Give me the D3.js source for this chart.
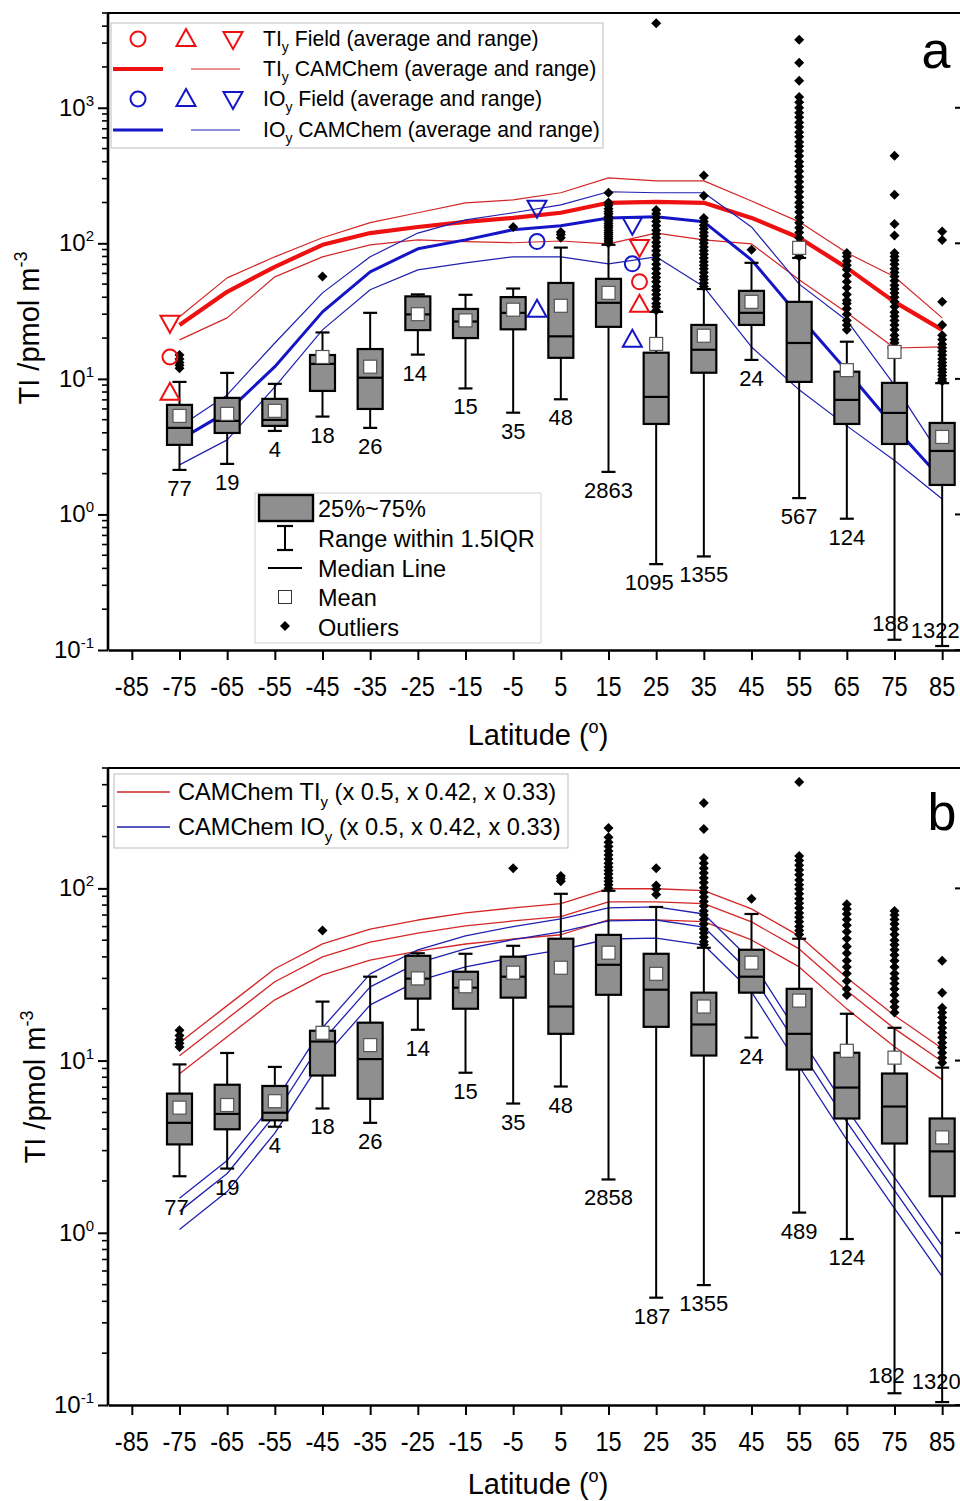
<!DOCTYPE html>
<html><head><meta charset="utf-8">
<script src="https://cdnjs.cloudflare.com/ajax/libs/d3/7.8.5/d3.min.js"></script>
<style>
body{margin:0;background:#fff}
svg{display:block}
text{font-family:"Liberation Sans",Arial,Helvetica,sans-serif;fill:#000}
</style>
</head><body>
<svg id="c" width="960" height="1501"></svg>
<script>
// ---------------- DATA ----------------
const lats = [-75,-65,-55,-45,-35,-25,-15,-5,5,15,25,35,45,55,65,75,85];
const xTickValues = [-85,-75,-65,-55,-45,-35,-25,-15,-5,5,15,25,35,45,55,65,75,85];
const xTickLabels = ["-85","-75","-65","-55","-45","-35","-25","-15","-5","5","15","25","35","45","55","65","75","85"];
const yMajorA = [0.1,1,10,100,1000];
const yExpA = ["-1","0","1","2","3"];
const yMajorB = [0.1,1,10,100];
const yExpB = ["-1","0","1","2"];

// Panel a box statistics
const q1A     = [3.26,3.99,4.50,8.15,6.0,22.9,20.0,23.2,14.3,24.2,4.65,11.1,25,9.5,4.65,3.31,1.65];
const medA    = [4.35,4.90,4.98,12.9,10.2,29.9,26.5,30.7,20.6,36.4,7.36,16.4,30.7,18.4,7.0,5.61,2.94];
const q3A     = [6.43,7.24,7.12,15.0,16.6,40.6,32.8,40.1,51,54.7,15.6,25,44.6,37,11.3,9.34,4.73];
const meanA   = [5.33,5.52,5.81,14.5,12.3,30,27,32.4,34.6,43.1,18.1,20.8,37,92.6,11.6,15.8,3.73];
const wLowA   = [2.13,2.36,4.13,5.27,4.35,15.1,8.5,5.63,7.07,2.06,0.43,0.49,13.8,1.32,0.93,0.119,0.107];
const wHighA  = [9.5,11.07,9.19,22,30.7,42,41.7,46.4,93,97.5,31.2,46,71.8,78,18.8,17,9.3];
const countsA = [77,19,4,18,26,14,15,35,48,2863,1095,1355,24,567,124,188,1322];
const outliersA = [
  [12,12.6,13.2,14,15],[],[],[57],[],[],[],[132],[110,116,121],
  [236,200,190,180,172,165,158,152,146,140,135,130,125,120,116,112,108,104,100],
  [4200,176,165,155,145,135,125,117,110,102,95,88,82,76,70,65,60,56,52,48,45,42,39,36,34,32],
  [317,224,154,145,136,128,120,113,106,100,94,88,83,78,73,69,65,61,57,54,51,48],
  [89.5],
  [3175,2150,1580,1200,1100,1000,920,850,780,720,660,610,560,520,480,440,400,370,340,310,285,260,240,220,200,185,170,155,142,130,120,110,101,93,86,80],
  [85,80,74,69,64,58,52,47,42,38,36,33,30,27,25,23],
  [442,228,139,114,85,80,75,70,65,61,57,53,49,46,43,40,37,34,31,29,27,25,23,21,19.5,18.5],
  [122,106,37,25,21,19.5,18,17,16,15,14,13.2,12.5,11.8,11.2,10.6,10,9.6]
];

// Panel a CAMChem model lines
const camTIyAvg = [25.0,43.9,67.1,97.5,119,132,144,154,168,199,202,199,154,110,65.9,37.0,23.0];
const camTIyMax = [28.7,55.6,79.5,110,142,168,199,209,236,304,289,289,205,144,85.1,56.6,28.2];
const camTIyMin = [19.4,28.2,56.6,79.5,97.5,106,103,101,104,99,119,106,99,53.8,30.7,16.9,17.2];
const camIOyAvg = [3.55,5.71,12.3,31.2,61.6,91.1,106,126,135,154,157,144,75.5,29,11.5,4.4,1.8];
const camIOyMax = [4.43,7.62,18.4,43.1,79.5,119,149,168,192,240,236,236,132,50,27,9,2.6];
const camIOyMin = [2.32,3.55,8.73,23.0,45.4,63.7,71.8,79.5,79.5,70.6,79.5,47.8,17.2,8.3,4.5,2.5,1.3];

// Panel a field observations
const fieldTIyLat = [-77,21.5];
const fieldTIyAvg = [14.5,52];
const fieldTIyMin = [7.9,35.2];
const fieldTIyMax = [25.9,94];
const fieldIOyLat = [0,20];
const fieldIOyAvg = [103,70.6];
const fieldIOyMin = [32.3,19.4];
const fieldIOyMax = [183,137];

// Panel b box statistics
const q1B     = [3.26,3.99,4.50,8.19,6.0,22.9,20.0,23.2,14.3,24.1,15.7,10.7,24.8,8.87,4.61,3.30,1.63];
const medB    = [4.35,4.90,4.98,12.9,10.2,29.9,26.5,30.7,20.6,36.0,25.8,16.2,30.7,14.3,6.97,5.41,2.97];
const q3B     = [6.43,7.24,7.12,14.9,16.6,40.6,32.8,40.1,51,53.7,41.7,24.8,44,26.1,11.1,8.41,4.61];
const meanB   = [5.33,5.52,5.81,14.5,12.3,30,27,32.4,34.6,42.3,31.9,20.6,37,22.3,11.4,10.4,3.58];
const wLowB   = [2.13,2.36,4.13,5.27,4.35,15.1,8.5,5.63,7.07,2.04,0.42,0.497,13.6,1.31,0.92,0.117,0.104];
const wHighB  = [9.5,11.07,9.19,22,30.7,42,41.7,46.4,93,96.8,78,45.2,71,51,18.7,15.5,9.1];
const countsB = [77,19,4,18,26,14,15,35,48,2858,187,1355,24,489,124,182,1320];
const outliersB = [
  [12,12.6,13.2,14,15],[],[],[57],[],[],[],[131],[110,114,118],
  [224,198,185,175,165,156,148,140,133,127,121,115,110,105,100],
  [131,104,99,92],
  [313,221,150,140,131,123,115,108,101,95,89,84,79,74,70,66,62,58,55,52,49,47],
  [87],
  [414,154,145,136,128,120,112,105,99,93,87,82,77,72,68,64,60,57,54],
  [81,76,71,66,61,56,51,46,42,38,35,32,29,26,24],
  [74,70,66,62,58,54,50,47,44,41,38,35,32,30,28,26,24,22,20.5,19],
  [38,24.8,20.3,19,17.8,16.6,15.5,14.5,13.6,12.7,11.9,11.1,10.4,9.7]
];

// Panel b CAMChem (unscaled) and scale factors from the legend
const camTIyB = [25.4,41.7,68.3,95.3,116,131,144,154,163,199,199,194,152,106,60.5,36.5,23.5];
const camIOyB = [3.17,5.26,11.5,31,63.8,88,106,120,133,154,156,142,76,28,10.5,4.2,1.69];
const scaleFactors = [0.5,0.42,0.33];

// ---------------- DRAWING ----------------
const RED = "#ee1111", RED_T = "#d42626", BLUE = "#1515c8", BLUE_T = "#2020b0";
const BOXFILL = "#8f8f8f";
const svg = d3.select("#c");
const x = d3.scaleLinear().domain([-90, 90]).range([108, 966]);

function sup(t, base, s, size, dy) {
  t.append("tspan").text(base);
  t.append("tspan").attr("font-size", size).attr("dy", dy).text(s);
}

function drawAxes(g, y, top, bottom, majors, exps, maxV, titleBaseX, titleCY, xTitleBase) {
  g.append("line").attr("x1", 108).attr("x2", 966).attr("y1", top).attr("y2", top)
    .attr("stroke", "#000").attr("stroke-width", 2.2);
  g.append("line").attr("x1", 966).attr("x2", 966).attr("y1", top).attr("y2", bottom)
    .attr("stroke", "#000").attr("stroke-width", 2.2);
  const xa = g.append("g").attr("transform", `translate(0,${bottom})`)
    .call(d3.axisBottom(x).tickValues(xTickValues).tickSize(10).tickSizeOuter(0).tickFormat(""));
  xa.select(".domain").attr("stroke-width", 2.6);
  xa.selectAll(".tick line").attr("stroke-width", 2);
  xTickValues.forEach((t, i) => {
    g.append("text").attr("transform", `translate(${x(t)},${bottom + 46}) scale(0.84,1)`)
      .attr("text-anchor", "middle").attr("font-size", 28).text(xTickLabels[i]);
  });
  const xt = g.append("text").attr("x", 538).attr("y", xTitleBase).attr("text-anchor", "middle").attr("font-size", 29);
  xt.append("tspan").text("Latitude (");
  xt.append("tspan").attr("font-size", 18).attr("dy", -12).text("o");
  xt.append("tspan").attr("dy", 12).text(")");
  const ya = g.append("g").attr("transform", "translate(108,0)")
    .call(d3.axisLeft(y).tickValues(majors).tickSize(10).tickSizeOuter(0).tickFormat(""));
  ya.select(".domain").attr("d", `M0,${top}V${bottom}`).attr("stroke-width", 2.6);
  ya.selectAll(".tick line").attr("stroke-width", 2);
  const minors = [];
  majors.forEach(m => { for (let k = 2; k <= 9; k++) if (m * k <= maxV) minors.push(m * k); });
  g.selectAll(null).data(minors).enter().append("line")
    .attr("x1", 102).attr("x2", 108).attr("y1", d => y(d)).attr("y2", d => y(d))
    .attr("stroke", "#000").attr("stroke-width", 1.6);
  g.selectAll(null).data(majors).enter().append("line")
    .attr("x1", 955).attr("x2", 966).attr("y1", d => y(d)).attr("y2", d => y(d))
    .attr("stroke", "#000").attr("stroke-width", 2);
  majors.forEach((m, i) => {
    const t = g.append("text").attr("x", 94).attr("y", y(m) + 8).attr("text-anchor", "end").attr("font-size", 24);
    sup(t, "10", exps[i], 15, -10);
  });
  const yt = g.append("text").attr("transform", `translate(${titleBaseX},${titleCY}) rotate(-90)`)
    .attr("text-anchor", "middle").attr("font-size", 29);
  yt.append("tspan").text("TI /pmol m");
  yt.append("tspan").attr("font-size", 18).attr("dy", -12).text("-3");
}

function diamond(g, cx, cy, r) {
  g.append("path").attr("d", `M${cx},${cy - r}L${cx + r},${cy}L${cx},${cy + r}L${cx - r},${cy}Z`).attr("fill", "#000");
}

function drawBoxes(g, y, bottom, q1, med, q3, mean, wl, wh, outl, counts, nudge) {
  const hw = 12.5, cw = 7;
  lats.forEach((lat, i) => {
    const cx = x(lat);
    const bx = g.append("g");
    bx.append("line").attr("x1", cx).attr("x2", cx).attr("y1", y(wl[i])).attr("y2", y(wh[i]))
      .attr("stroke", "#000").attr("stroke-width", 2);
    [wl[i], wh[i]].forEach(v => bx.append("line").attr("x1", cx - cw).attr("x2", cx + cw)
      .attr("y1", y(v)).attr("y2", y(v)).attr("stroke", "#000").attr("stroke-width", 2.2));
    bx.append("rect").attr("x", cx - hw).attr("y", y(q3[i])).attr("width", 2 * hw)
      .attr("height", y(q1[i]) - y(q3[i])).attr("fill", BOXFILL).attr("stroke", "#000").attr("stroke-width", 2.2);
    bx.append("line").attr("x1", cx - hw).attr("x2", cx + hw).attr("y1", y(med[i])).attr("y2", y(med[i]))
      .attr("stroke", "#000").attr("stroke-width", 2.2);
  });
  lats.forEach((lat, i) => {
    outl[i].forEach(v => diamond(g, x(lat), y(v), 5));
  });
  lats.forEach((lat, i) => {
    g.append("rect").attr("x", x(lat) - 6.5).attr("y", y(mean[i]) - 6.5).attr("width", 13).attr("height", 13)
      .attr("fill", "#fff").attr("stroke", "#555").attr("stroke-width", 1.2);
  });
  lats.forEach((lat, i) => {
    const n = nudge[lat] || [0, 0];
    const cy = Math.min(y(wl[i]) + 18, bottom - 24) + n[1];
    g.append("text").attr("x", x(lat) + n[0]).attr("y", cy + 8).attr("text-anchor", "middle")
      .attr("font-size", 22).text(counts[i]);
  });
}

function lineOf(g, y, vals, color, w) {
  const ln = d3.line().x((d, i) => x(lats[i])).y(d => y(d));
  g.append("path").attr("d", ln(vals)).attr("fill", "none").attr("stroke", color)
    .attr("stroke-width", w).attr("stroke-linejoin", "round");
}

function triUp(g, cx, cy, color) {
  g.append("path").attr("d", `M${cx},${cy - 10}L${cx + 9.5},${cy + 7}L${cx - 9.5},${cy + 7}Z`)
    .attr("fill", "none").attr("stroke", color).attr("stroke-width", 2);
}
function triDown(g, cx, cy, color) {
  g.append("path").attr("d", `M${cx},${cy + 10}L${cx + 9.5},${cy - 7}L${cx - 9.5},${cy - 7}Z`)
    .attr("fill", "none").attr("stroke", color).attr("stroke-width", 2);
}
function circ(g, cx, cy, color) {
  g.append("circle").attr("cx", cx).attr("cy", cy).attr("r", 7.5)
    .attr("fill", "none").attr("stroke", color).attr("stroke-width", 2);
}

// ===== Panel a =====
const yA = d3.scaleLog().domain([0.1, 5000]).range([650, 13]);
const gA = svg.append("g");
lineOf(gA, yA, camTIyMax, RED_T, 1.2);
lineOf(gA, yA, camTIyMin, RED_T, 1.2);
lineOf(gA, yA, camTIyAvg, RED, 4.2);
lineOf(gA, yA, camIOyMax, BLUE_T, 1.2);
lineOf(gA, yA, camIOyMin, BLUE_T, 1.2);
lineOf(gA, yA, camIOyAvg, BLUE, 3);
drawBoxes(gA, yA, 650, q1A, medA, q3A, meanA, wLowA, wHighA, outliersA, countsA,
  {"-25": [-3, 0], "25": [-7, 0], "75": [-4, -3], "85": [-7, 4]});
fieldTIyLat.forEach((lat, i) => {
  circ(gA, x(lat), yA(fieldTIyAvg[i]), RED);
  triUp(gA, x(lat), yA(fieldTIyMin[i]), RED);
  triDown(gA, x(lat), yA(fieldTIyMax[i]), RED);
});
fieldIOyLat.forEach((lat, i) => {
  circ(gA, x(lat), yA(fieldIOyAvg[i]), BLUE);
  triUp(gA, x(lat), yA(fieldIOyMin[i]), BLUE);
  triDown(gA, x(lat), yA(fieldIOyMax[i]), BLUE);
});
drawAxes(gA, yA, 13, 650, yMajorA, yExpA, 5000, 39, 328, 745);
gA.append("text").attr("x", 936).attr("y", 68).attr("text-anchor", "middle").attr("font-size", 52).text("a");

// legend a (top)
const lgA = gA.append("g");
lgA.append("rect").attr("x", 111).attr("y", 23).attr("width", 492).attr("height", 125)
  .attr("fill", "#fff").attr("stroke", "#bdbdbd").attr("stroke-width", 1);
const legRows = [
  {y: 39, c: RED, sym: true, label: ["TI", " Field (average and range)"]},
  {y: 69, c: RED, sym: false, thick: 4.2, label: ["TI", " CAMChem (average and range)"]},
  {y: 99, c: BLUE, sym: true, label: ["IO", " Field (average and range)"]},
  {y: 130, c: BLUE, sym: false, thick: 3, label: ["IO", " CAMChem (average and range)"]}
];
legRows.forEach(r => {
  if (r.sym) {
    circ(lgA, 138, r.y, r.c); triUp(lgA, 186, r.y, r.c); triDown(lgA, 233, r.y, r.c);
  } else {
    lgA.append("line").attr("x1", 113).attr("x2", 163).attr("y1", r.y).attr("y2", r.y).attr("stroke", r.c).attr("stroke-width", r.thick);
    lgA.append("line").attr("x1", 191).attr("x2", 240).attr("y1", r.y).attr("y2", r.y).attr("stroke", r.c === RED ? RED_T : BLUE_T).attr("stroke-width", 1.2);
  }
  const t = lgA.append("text").attr("x", 263).attr("y", r.y + 7).attr("font-size", 21.2);
  t.append("tspan").text(r.label[0]);
  t.append("tspan").attr("font-size", 14).attr("dy", 6).text("y");
  t.append("tspan").attr("dy", -6).text(r.label[1]);
});

// legend a (box key)
const lgK = gA.append("g");
lgK.append("rect").attr("x", 255).attr("y", 493).attr("width", 286).attr("height", 150)
  .attr("fill", "#fff").attr("stroke", "#cfcfcf").attr("stroke-width", 1);
lgK.append("rect").attr("x", 259).attr("y", 495).attr("width", 54).attr("height", 26)
  .attr("fill", BOXFILL).attr("stroke", "#000").attr("stroke-width", 2.4);
lgK.append("line").attr("x1", 285).attr("x2", 285).attr("y1", 526).attr("y2", 550).attr("stroke", "#000").attr("stroke-width", 2);
[526, 550].forEach(v => lgK.append("line").attr("x1", 277).attr("x2", 293).attr("y1", v).attr("y2", v).attr("stroke", "#000").attr("stroke-width", 2.2));
lgK.append("line").attr("x1", 268).attr("x2", 302).attr("y1", 568).attr("y2", 568).attr("stroke", "#000").attr("stroke-width", 2);
lgK.append("rect").attr("x", 278.5).attr("y", 590.5).attr("width", 13).attr("height", 13).attr("fill", "#fff").attr("stroke", "#333").attr("stroke-width", 1);
diamond(lgK, 285, 626, 5);
["25%~75%", "Range within 1.5IQR", "Median Line", "Mean", "Outliers"].forEach((s, i) => {
  lgK.append("text").attr("x", 318).attr("y", [508, 538, 568, 597, 627][i] + 8.5).attr("font-size", 23.5).text(s);
});

// ===== Panel b =====
const yB = d3.scaleLog().domain([0.1, 500]).range([1405, 768]);
const gB = svg.append("g");
scaleFactors.forEach(f => lineOf(gB, yB, camTIyB.map(v => v * f), RED_T, 1.3));
scaleFactors.forEach(f => lineOf(gB, yB, camIOyB.map(v => v * f), BLUE_T, 1.3));
drawBoxes(gB, yB, 1405, q1B, medB, q3B, meanB, wLowB, wHighB, outliersB, countsB,
  {"-75": [-3, 13], "25": [-4, 0], "75": [-8, -6], "85": [-6, 0]});
drawAxes(gB, yB, 768, 1405, yMajorB, yExpB, 500, 45, 1087, 1494);
gB.append("text").attr("x", 942).attr("y", 830).attr("text-anchor", "middle").attr("font-size", 52).text("b");

const lgB = gB.append("g");
lgB.append("rect").attr("x", 114).attr("y", 774).attr("width", 454).attr("height", 74)
  .attr("fill", "#fff").attr("stroke", "#bdbdbd").attr("stroke-width", 1);
[{y: 792, c: RED_T, s: "TI"}, {y: 827, c: BLUE_T, s: "IO"}].forEach(r => {
  lgB.append("line").attr("x1", 117).attr("x2", 170).attr("y1", r.y).attr("y2", r.y).attr("stroke", r.c).attr("stroke-width", 1.3);
  const t = lgB.append("text").attr("x", 178).attr("y", r.y + 8).attr("font-size", 23.6);
  t.append("tspan").text("CAMChem " + r.s);
  t.append("tspan").attr("font-size", 15).attr("dy", 7).text("y");
  t.append("tspan").attr("dy", -7).text(" (x 0.5, x 0.42, x 0.33)");
});
</script>
</body></html>
